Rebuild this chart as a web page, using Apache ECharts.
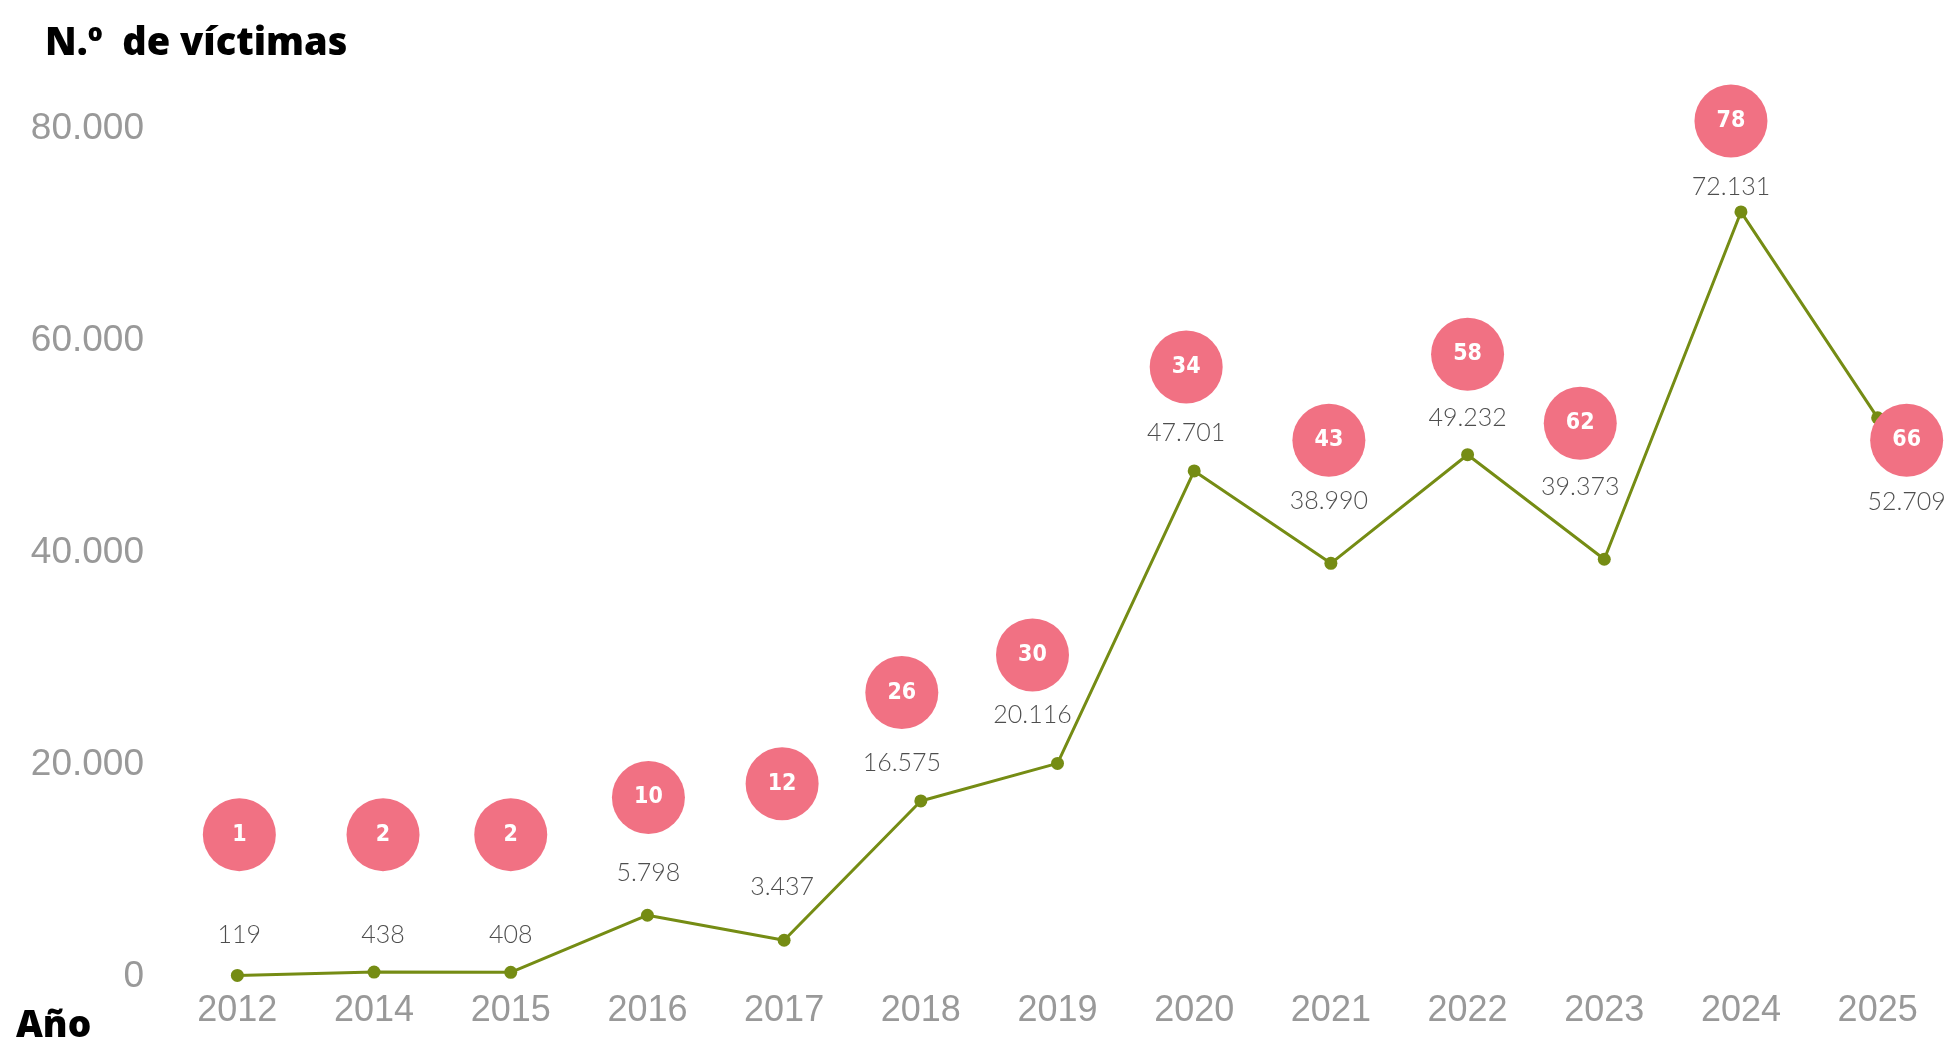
<!DOCTYPE html>
<html>
<head>
<meta charset="utf-8">
<script src="https://cdn.jsdelivr.net/npm/echarts@6/dist/echarts.min.js"></script>
<style>
  html, body { margin: 0; padding: 0; background: #fff; }
  #chart { width: 1956px; height: 1043px; }
</style>
</head>
<body>
<div id="chart"></div>
<script>
const years = ['2012', '2014', '2015', '2016', '2017', '2018', '2019', '2020', '2021', '2022', '2023', '2024', '2025'];
const victims = [119, 438, 408, 5798, 3437, 16575, 20116, 47701, 38990, 49232, 39373, 72131, 52709];
const counts = [1, 2, 2, 10, 12, 26, 30, 34, 43, 58, 62, 78, 66];
// height of each pink bubble in axis units
const bubbleLevel = [13400, 13400, 13400, 16900, 18200, 26800, 30350, 57500, 50600, 58700, 52200, 80700, 50600];
const yTicks = [0, 20000, 40000, 60000, 80000];

// layout tweaks (px): sideways nudge of bubbles, drop of the value label under each bubble
const bubbleShift = [2, 9, 0, 1, -2, -19, -25, -8, -2, 0, -24, -10, 29];
const labelDrop = [100, 100, 100, 75, 103, 70, 60, 66, 61, 64, 64, 66, 62];

function fmt(n) {
  return String(n).replace(/\B(?=(\d{3})+(?!\d))/g, '.');
}

const dom = document.getElementById('chart');
const myChart = echarts.init(dom, null, { renderer: 'canvas' });

const boldFont = "'Open Sans', 'Noto Sans', sans-serif";
const narrowBold = "'Liberation Sans Narrow', 'DejaVu Sans Condensed', 'Roboto Condensed', Roboto, sans-serif";

const option = {
  animation: false,
  backgroundColor: '#ffffff',
  title: [
    {
      text: 'N.º  de víctimas',
      left: 45,
      top: 25,
      padding: 0,
      textStyle: { fontFamily: boldFont, fontWeight: 800, fontSize: 38, color: '#000' }
    },
    {
      text: 'Año',
      left: 16,
      top: 1008,
      padding: 0,
      textStyle: { fontFamily: boldFont, fontWeight: 800, fontSize: 37, color: '#000' }
    }
  ],
  grid: { left: 169, right: 10, top: 128.5, bottom: 66.3 },
  xAxis: {
    type: 'category',
    data: years,
    axisLine: { show: false },
    axisTick: { show: false },
    axisLabel: {
      margin: 16,
      fontFamily: 'Liberation Sans',
      fontSize: 36,
      color: '#999999'
    }
  },
  yAxis: {
    type: 'value',
    min: yTicks[0],
    max: yTicks[yTicks.length - 1],
    interval: yTicks[1] - yTicks[0],
    splitLine: { show: false },
    axisLine: { show: false },
    axisTick: { show: false },
    axisLabel: {
      margin: 25,
      fontFamily: 'Liberation Sans',
      fontSize: 37,
      color: '#999999',
      padding: [12, 0, 0, 0],
      formatter: v => fmt(v)
    }
  },
  series: [
    {
      type: 'line',
      data: victims,
      symbol: 'circle',
      symbolSize: 13,
      lineStyle: { color: '#758c14', width: 3 },
      itemStyle: { color: '#758c14' },
      z: 2
    },
    {
      type: 'scatter',
      clip: false,
      z: 3,
      symbolSize: 73,
      itemStyle: { color: '#f17183', opacity: 1 },
      data: bubbleLevel.map((v, i) => ({
        value: v,
        symbolOffset: [bubbleShift[i], 0]
      })),
      label: {
        show: true,
        position: 'inside',
        formatter: p => counts[p.dataIndex],
        fontFamily: narrowBold,
        fontWeight: 'bold',
        fontSize: 23,
        color: '#ffffff'
      }
    },
    {
      type: 'scatter',
      clip: false,
      silent: true,
      z: 4,
      symbolSize: 2,
      itemStyle: { color: 'rgba(0,0,0,0)' },
      data: bubbleLevel.map((v, i) => ({
        value: v,
        label: { offset: [bubbleShift[i], labelDrop[i]] }
      })),
      label: {
        show: true,
        position: 'inside',
        formatter: p => fmt(victims[p.dataIndex]),
        fontFamily: 'Lato',
        fontWeight: 300,
        fontSize: 25,
        color: '#222222'
      }
    }
  ]
};

myChart.setOption(option);
window.addEventListener('resize', myChart.resize);
</script>
</body>
</html>
